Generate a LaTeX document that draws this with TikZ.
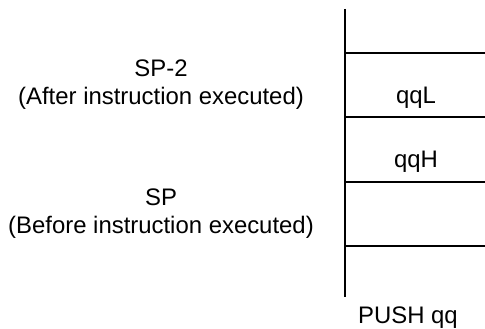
\documentclass[tikz,border=0pt]{standalone}
\usepackage{fontspec}
\setmainfont{Liberation Sans}
\begin{document}
\begin{tikzpicture}[x=1pt,y=-1pt,
  lbl/.style={font=\fontsize{23.9}{27}\selectfont, inner sep=0pt, anchor=base},
  stackline/.style={line width=1.5pt}]
\useasboundingbox (0,0) rectangle (485,329);
% stack frame
\coordinate (top) at (345,9);
\coordinate (bot) at (345,297);
\draw[stackline] (top) -- (bot);
\foreach \yy/\nm in {53/a,117/b,182/c,246/d}{
  \coordinate (l\nm) at (345,\yy);
  \coordinate (r\nm) at (485,\yy);
  \draw[stackline] (l\nm) -- (r\nm);
}
% cell contents
\node[lbl] (qqL) at (416,103) {qqL};
\node[lbl] (qqH) at (416,167) {qqH};
\node[lbl] (push) at (408,323) {PUSH qq};
% left labels
\node[lbl] (sp2) at (161,77) {SP-2};
\node[lbl] (after) at (161,105) {(After instruction executed)};
\node[lbl] (sp) at (161,205.5) {SP};
\node[lbl] (before) at (161,233) {(Before instruction executed)};
\end{tikzpicture}
\end{document}
